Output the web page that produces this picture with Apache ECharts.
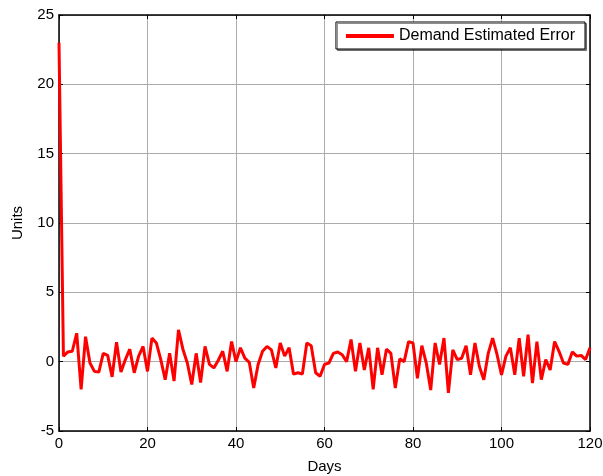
<!DOCTYPE html>
<html>
<head>
<meta charset="utf-8">
<script src="https://cdn.jsdelivr.net/npm/echarts@6/dist/echarts.min.js"></script>
<style>
  html, body { margin: 0; padding: 0; background: #fff; }
  #main { width: 603px; height: 476px; }
</style>
</head>
<body>
<div id="main"></div>
<script>
// 数据
var seriesName = 'Demand Estimated Error';
var xTicks = [0, 20, 40, 60, 80, 100, 120];
var yTicks = [-5, 0, 5, 10, 15, 20, 25];
var days = [];
for (var i = 0; i <= 120; i++) days.push(i);
var errors = [
  23, 0.4, 0.7, 0.75, 2.05, -2.0, 1.8, -0.1, -0.7, -0.75,
  0.6, 0.45, -1.1, 1.4, -0.75, 0.15, 0.9, -0.8, 0.4, 1.1,
  -0.7, 1.7, 1.35, 0.15, -1.3, 0.6, -1.4, 2.3, 0.9, -0.1,
  -1.65, 0.6, -1.5, 1.1, -0.2, -0.45, 0.1, 0.75, -0.7, 1.45,
  0, 1.0, 0.25, -0.05, -1.9, -0.2, 0.75, 1.1, 0.85, -0.45,
  1.35, 0.4, 1.0, -0.9, -0.8, -0.9, 1.35, 1.15, -0.8, -1.05,
  -0.2, -0.1, 0.6, 0.7, 0.5, 0.0, 1.6, -0.7, 1.35, -0.6,
  1.0, -2.0, 1.0, -0.95, 0.9, 0.6, -1.9, 0.2, 0.0, 1.45,
  1.35, -1.2, 1.15, -0.1, -2.05, 1.35, -0.2, 1.7, -2.25, 0.85,
  0.15, 0.25, 1.15, -0.95, 1.35, -0.35, -1.3, 0.6, 1.7, 0.5,
  -0.95, 0.4, 1.0, -0.95, 1.7, -1.05, 1.95, -1.55, 1.45, -1.3,
  0.15, -0.6, 1.45, 0.75, -0.1, -0.2, 0.7, 0.4, 0.45, 0.15,
  1.0
];

var font = 'Liberation Sans, Arial, Helvetica, sans-serif';
var fs = 15;
var chart = echarts.init(document.getElementById('main'));

// 上、右两条边框轴
var boxAxis = {
  axisLine: { show: true, onZero: false, lineStyle: { color: '#000', width: 1.5 } },
  axisTick: { show: true, inside: true, length: 4, lineStyle: { color: '#000' } },
  splitLine: { show: false },
  axisLabel: { show: false }
};

chart.setOption({
  animation: false,
  backgroundColor: '#fff',
  grid: { left: 59, right: 13, top: 15, bottom: 45, outerBoundsMode: 'none', containLabel: false },
  legend: {
    data: [seriesName],
    top: 22,
    right: 18,
    icon: 'rect',
    itemWidth: 48,
    itemHeight: 4,
    itemGap: 6,
    padding: [6, 10, 5, 10],
    backgroundColor: '#fff',
    borderColor: '#000',
    borderWidth: 1,
    shadowColor: 'rgba(0,0,0,0.45)',
    shadowOffsetX: 1.5,
    shadowOffsetY: 1.5,
    textStyle: { fontFamily: font, fontSize: 16, color: '#000' }
  },
  xAxis: [{
    type: 'value',
    min: xTicks[0],
    max: xTicks[xTicks.length - 1],
    interval: 20,
    name: 'Days',
    nameLocation: 'middle',
    nameGap: 28,
    nameTextStyle: { fontFamily: font, fontSize: fs, color: '#000' },
    axisLine: { show: true, onZero: false, lineStyle: { color: '#000', width: 1.5 } },
    axisTick: { show: true, inside: true, length: 4, lineStyle: { color: '#000' } },
    axisLabel: { fontFamily: font, fontSize: fs, color: '#000', margin: 5 },
    splitLine: { show: true, lineStyle: { color: '#ababab', width: 1 } }
  }, Object.assign({
    type: 'value', position: 'top',
    min: xTicks[0], max: xTicks[xTicks.length - 1], interval: 20
  }, boxAxis)],
  yAxis: [{
    type: 'value',
    min: yTicks[0],
    max: yTicks[yTicks.length - 1],
    interval: 5,
    name: 'Units',
    nameLocation: 'middle',
    nameGap: 34,
    nameTextStyle: { fontFamily: font, fontSize: fs, color: '#000' },
    axisLine: { show: true, onZero: false, lineStyle: { color: '#000', width: 1.5 } },
    axisTick: { show: true, inside: true, length: 4, lineStyle: { color: '#000' } },
    axisLabel: { fontFamily: font, fontSize: fs, color: '#000', margin: 5 },
    splitLine: { show: true, lineStyle: { color: '#ababab', width: 1 } }
  }, Object.assign({
    type: 'value', position: 'right',
    min: yTicks[0], max: yTicks[yTicks.length - 1], interval: 5
  }, boxAxis)],
  series: [{
    name: seriesName,
    type: 'line',
    data: days.map(function (d, i) { return [d, errors[i]]; }),
    showSymbol: false,
    symbol: 'none',
    lineStyle: { color: '#ff0000', width: 3 },
    itemStyle: { color: '#ff0000' }
  }]
});
</script>
</body>
</html>
